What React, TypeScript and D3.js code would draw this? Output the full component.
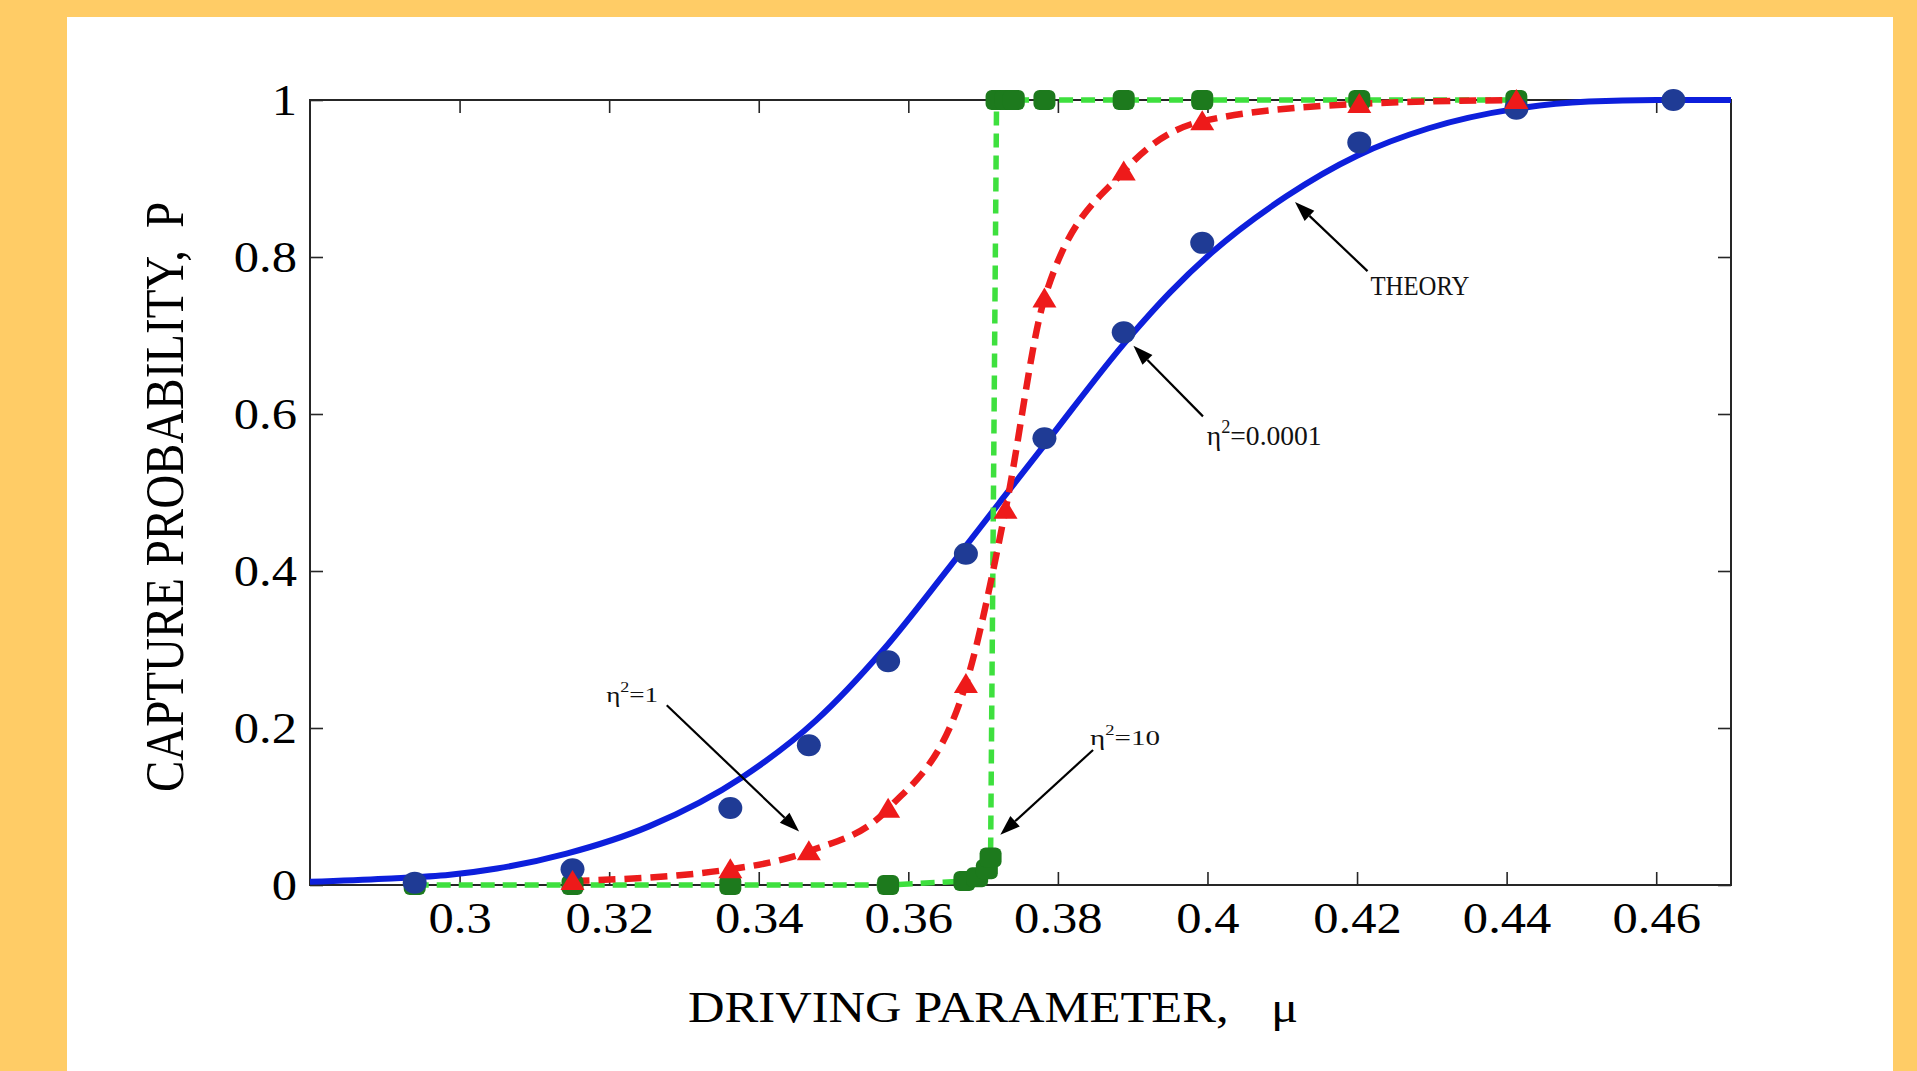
import React, { useRef, useEffect } from "react";
import * as d3 from "d3";

// theory curve (solid blue)
const muTheory = [0.28, 0.29, 0.2987, 0.305, 0.3143, 0.3254, 0.3379, 0.3477, 0.3566, 0.3655, 0.3721, 0.3784, 0.3895, 0.395, 0.4005, 0.4105, 0.42, 0.4296, 0.4414, 0.451, 0.46, 0.47];
const pTheory = [0.004, 0.008, 0.013, 0.021, 0.04, 0.075, 0.138, 0.21, 0.299, 0.405, 0.486, 0.563, 0.697, 0.755, 0.805, 0.877, 0.929, 0.964, 0.989, 0.998, 1.0, 1.0];

// eta^2 = 0.0001 (blue circles)
const muWeak = [0.294, 0.3151, 0.3362, 0.3467, 0.3573, 0.3677, 0.3782, 0.3888, 0.3993, 0.4203, 0.4413, 0.4623];
const pWeak = [0.003, 0.02, 0.098, 0.178, 0.285, 0.422, 0.569, 0.704, 0.818, 0.946, 0.989, 1.0];

// eta^2 = 1 (red triangles, dashed)
const muMid = [0.3151, 0.3362, 0.3467, 0.3573, 0.3677, 0.373, 0.3782, 0.3888, 0.3993, 0.4203, 0.4413];
const pMid = [0.005, 0.02, 0.043, 0.097, 0.256, 0.478, 0.747, 0.909, 0.973, 0.995, 1.0];

// eta^2 = 10 (green squares, dashed)
const muStrong = [0.294, 0.3151, 0.3362, 0.3573, 0.3675, 0.3692, 0.3705, 0.371, 0.3718, 0.373, 0.3741, 0.3782, 0.3888, 0.3993, 0.4203, 0.4413];
const pStrong = [0, 0, 0, 0, 0.005, 0.01, 0.02, 0.035, 1, 1, 1, 1, 1, 1, 1, 1];

const xTicks = [0.3, 0.32, 0.34, 0.36, 0.38, 0.4, 0.42, 0.44, 0.46];
const yTicks = [0, 0.2, 0.4, 0.6, 0.8, 1];

const xTitle = "DRIVING PARAMETER,";
const xSymbol = "μ";
const yTitle = "CAPTURE PROBABILITY,";
const ySymbol = "P";

// labels on the curves
const noteLabels = [
	{ base: "THEORY", sup: "", rest: "" },
	{ base: "η", sup: "2", rest: "=0.0001" },
	{ base: "η", sup: "2", rest: "=1" },
	{ base: "η", sup: "2", rest: "=10" },
];

// where the labels and arrows sit (data units), font size and drawn width
const noteLayout = [
	{ at: [0.4218, 0.752], from: [0.4214, 0.782], to: [0.4117, 0.87], size: 27, width: 99 },
	{ at: [0.3999, 0.5605], from: [0.3994, 0.597], to: [0.3901, 0.687], size: 27, width: 115 },
	{ at: [0.3196, 0.2335], from: [0.3277, 0.229], to: [0.3454, 0.068], size: 21, width: 52 },
	{ at: [0.3843, 0.178], from: [0.3847, 0.172], to: [0.3723, 0.064], size: 22, width: 70 },
];

const W = 1917;
const H = 1071;
const plot = { left: 310, right: 1731, top: 100, bottom: 885 };
const serif = "'Liberation Serif', 'Times New Roman', serif";
const stretch = 1.15;

const fmt = (d) => String(+(+d).toFixed(2));

const App = () => {
	const chartRef = useRef(null);

	useEffect(() => {
		const svg = d3.select(chartRef.current);
		svg.selectAll("*").remove();

		const x = d3.scaleLinear().domain([0.28, 0.47]).range([plot.left, plot.right]);
		const y = d3.scaleLinear().domain([0, 1]).range([plot.bottom, plot.top]);

		// page background
		svg.append("rect").attr("width", W).attr("height", H).attr("fill", "#ffcc66");
		svg.append("rect").attr("x", 67).attr("y", 17).attr("width", 1826).attr("height", H - 17).attr("fill", "#ffffff");

		// axes box
		svg.append("rect")
			.attr("x", plot.left)
			.attr("y", plot.top)
			.attr("width", plot.right - plot.left)
			.attr("height", plot.bottom - plot.top)
			.attr("fill", "none")
			.attr("stroke", "#262626")
			.attr("stroke-width", 2);

		const tick = 13;
		const axisDefs = [
			{ axis: d3.axisBottom(x).tickValues(xTicks).tickFormat(fmt), pos: `translate(0,${plot.bottom})`, side: "bottom" },
			{ axis: d3.axisTop(x).tickValues(xTicks).tickFormat(() => ""), pos: `translate(0,${plot.top})`, side: "top" },
			{ axis: d3.axisLeft(y).tickValues(yTicks).tickFormat(fmt), pos: `translate(${plot.left},0)`, side: "left" },
			{ axis: d3.axisRight(y).tickValues(yTicks).tickFormat(() => ""), pos: `translate(${plot.right},0)`, side: "right" },
		];

		axisDefs.forEach((a) => {
			const g = svg.append("g")
				.attr("transform", a.pos)
				.call(a.axis.tickSizeInner(-tick).tickSizeOuter(0));
			g.select(".domain").remove();
			g.attr("font-family", serif).attr("font-size", 44);
			g.selectAll(".tick line").attr("stroke", "#262626").attr("stroke-width", 1.6);
			if (a.side === "bottom") {
				g.selectAll(".tick text")
					.attr("fill", "#000")
					.attr("y", 48)
					.attr("dy", null)
					.attr("transform", `scale(${stretch},1)`);
			}
			if (a.side === "left") {
				g.selectAll(".tick text")
					.attr("fill", "#000")
					.attr("x", -13 / stretch)
					.attr("dy", "0.34em")
					.attr("transform", `scale(${stretch},1)`);
			}
		});

		// axis titles
		svg.append("text")
			.attr("transform", `translate(688,1022) scale(${stretch},1)`)
			.attr("font-family", serif)
			.attr("font-size", 44)
			.text(xTitle);
		svg.append("text")
			.attr("transform", `translate(1271,1022) scale(${stretch},1)`)
			.attr("font-family", serif)
			.attr("font-size", 44)
			.text(xSymbol);

		const yt = svg.append("text")
			.attr("transform", `translate(183,497) rotate(-90) scale(1,${stretch})`)
			.attr("font-family", serif)
			.attr("font-size", 47)
			.attr("text-anchor", "middle")
			.text(yTitle);
		yt.append("tspan").attr("dx", 22).text(ySymbol);

		// curves
		const line = d3.line().x((d) => x(d[0])).y((d) => y(d[1]));

		svg.append("path")
			.datum(d3.zip(muTheory, pTheory))
			.attr("d", line.curve(d3.curveMonotoneX))
			.attr("fill", "none")
			.attr("stroke", "#0d1fdc")
			.attr("stroke-width", 6);

		svg.append("path")
			.datum(d3.zip(muStrong, pStrong))
			.attr("d", line.curve(d3.curveLinear))
			.attr("fill", "none")
			.attr("stroke", "#3ee03e")
			.attr("stroke-width", 5.5)
			.attr("stroke-dasharray", "14,8");

		svg.append("path")
			.datum(d3.zip(muMid, pMid))
			.attr("d", line.curve(d3.curveMonotoneX))
			.attr("fill", "none")
			.attr("stroke", "#ec1c1c")
			.attr("stroke-width", 6.5)
			.attr("stroke-dasharray", "17,9");

		// markers
		svg.append("g")
			.selectAll("rect")
			.data(d3.zip(muStrong, pStrong))
			.enter()
			.append("rect")
			.attr("x", (d) => x(d[0]) - 11)
			.attr("y", (d) => y(d[1]) - 10)
			.attr("width", 22)
			.attr("height", 20)
			.attr("rx", 6)
			.attr("fill", "#1d7a1d");

		svg.append("g")
			.selectAll("ellipse")
			.data(d3.zip(muWeak, pWeak))
			.enter()
			.append("ellipse")
			.attr("cx", (d) => x(d[0]))
			.attr("cy", (d) => y(d[1]))
			.attr("rx", 12)
			.attr("ry", 11)
			.attr("fill", "#1f3b95");

		svg.append("g")
			.selectAll("path")
			.data(d3.zip(muMid, pMid))
			.enter()
			.append("path")
			.attr("d", (d) => {
				const cx = x(d[0]);
				const cy = y(d[1]);
				return `M${cx},${cy - 11}L${cx + 12},${cy + 9}L${cx - 12},${cy + 9}Z`;
			})
			.attr("fill", "#ee1a1a");

		// annotations with arrows
		noteLabels.forEach((n, i) => {
			const L = noteLayout[i];
			const x0 = x(L.from[0]);
			const y0 = y(L.from[1]);
			const x1 = x(L.to[0]);
			const y1 = y(L.to[1]);
			const len = Math.hypot(x1 - x0, y1 - y0);
			const ux = (x1 - x0) / len;
			const uy = (y1 - y0) / len;
			const head = 20;
			const half = 7;
			const bx = x1 - ux * head;
			const by = y1 - uy * head;

			svg.append("line")
				.attr("x1", x0).attr("y1", y0)
				.attr("x2", bx).attr("y2", by)
				.attr("stroke", "#000")
				.attr("stroke-width", 2.2);
			svg.append("path")
				.attr("d", `M${x1},${y1}L${bx - uy * half},${by + ux * half}L${bx + uy * half},${by - ux * half}Z`)
				.attr("fill", "#000");

			const t = svg.append("text")
				.attr("font-family", serif)
				.attr("font-size", L.size)
				.attr("fill", "#111");
			t.append("tspan").text(n.base);
			if (n.sup) {
				t.append("tspan")
					.attr("font-size", Math.round(L.size * 0.65))
					.attr("dy", -L.size * 0.45)
					.text(n.sup);
				t.append("tspan")
					.attr("dy", L.size * 0.45)
					.text(n.rest);
			}
			const w = t.node().getBBox().width || L.width;
			t.attr("transform", `translate(${x(L.at[0])},${y(L.at[1])}) scale(${L.width / w},1)`);
		});
	}, []);

	return (
		<svg
			ref={chartRef}
			width={W}
			height={H}
			style={{ position: "absolute", left: 0, top: 0 }}
		></svg>
	);
};

export default App;
